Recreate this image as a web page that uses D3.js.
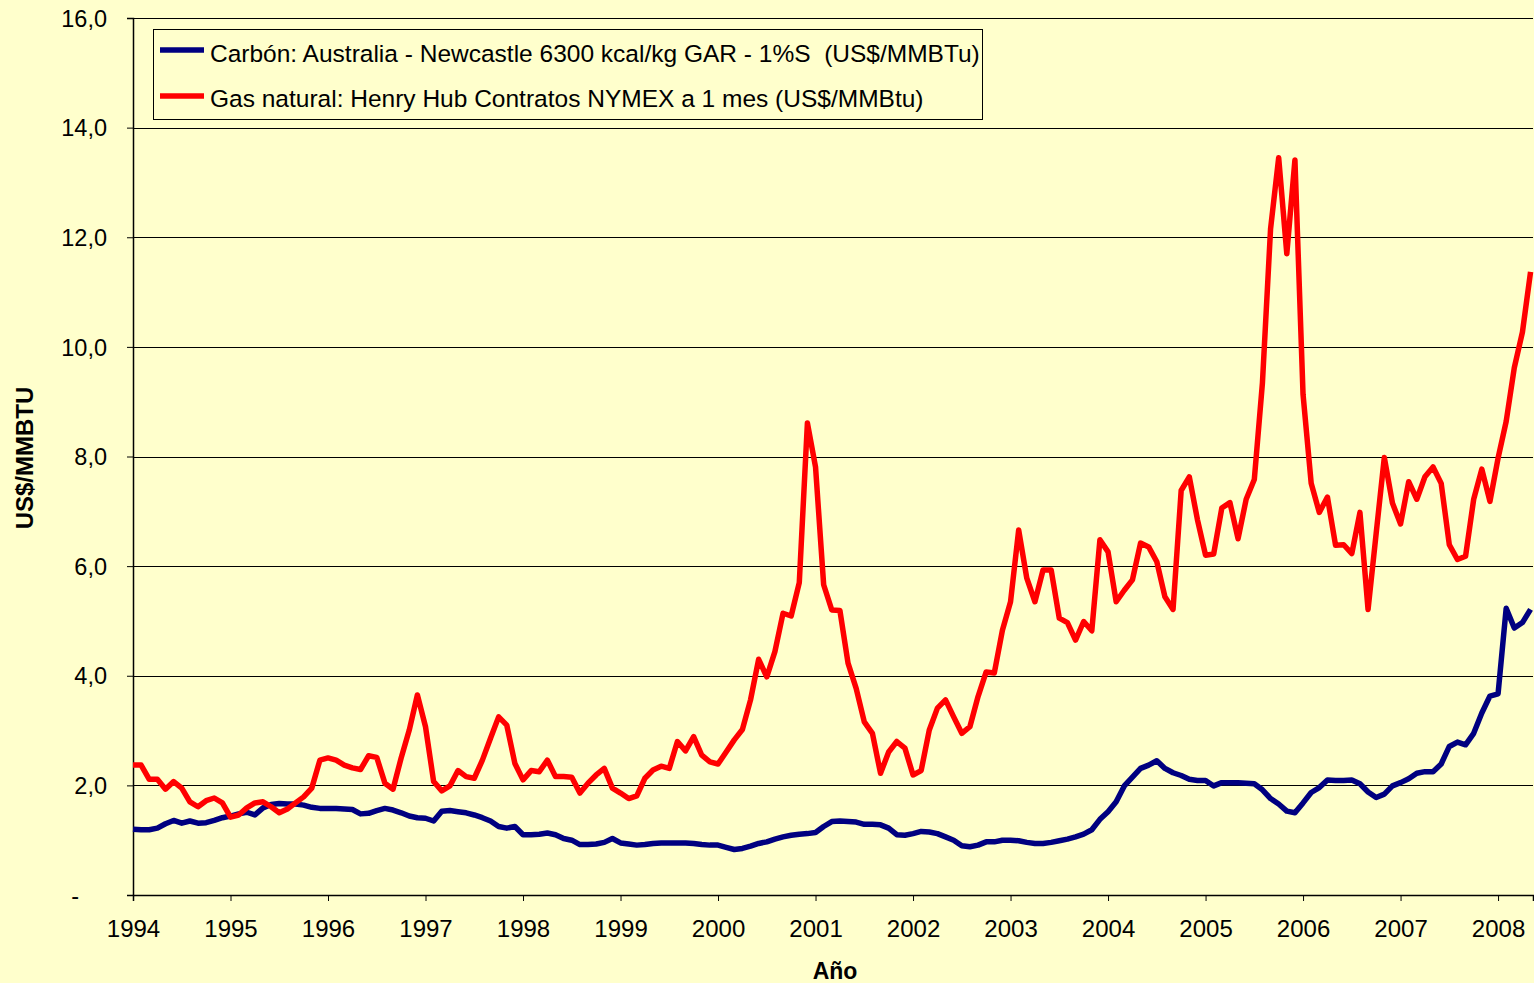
<!DOCTYPE html>
<html><head><meta charset="utf-8">
<script src="https://cdn.jsdelivr.net/npm/d3@7"></script>
<style>
html,body{margin:0;padding:0;background:#FFFFCC;}
svg{display:block;font-family:Arial,"Liberation Sans",sans-serif;}
</style>
</head><body>
<svg id="chart" width="1534" height="983"></svg>
<script>
// ---- data (monthly, Jan 1994 .. May 2008) ----
const startYear = 1994;
const yearTicks = [1994,1995,1996,1997,1998,1999,2000,2001,2002,2003,2004,2005,2006,2007,2008];
const yTicks = [0,2,4,6,8,10,12,14,16];
const seriesNames = [
  "Carbón: Australia - Newcastle 6300 kcal/kg GAR - 1%S\u00a0\u00a0(US$/MMBTu)",
  "Gas natural: Henry Hub Contratos NYMEX a 1 mes (US$/MMBtu)"
];
const seriesColors = ["#000080", "#FF0000"];
const carbon = [
  1.20,1.19,1.19,1.22,1.30,1.36,1.31,1.35,1.31,1.32,1.36,1.41,
  1.44,1.48,1.51,1.46,1.59,1.65,1.67,1.66,1.66,1.64,1.60,1.58,
  1.58,1.58,1.57,1.56,1.48,1.49,1.54,1.58,1.55,1.50,1.44,1.41,
  1.40,1.35,1.53,1.54,1.52,1.50,1.46,1.41,1.35,1.25,1.22,1.25,
  1.10,1.10,1.11,1.13,1.10,1.03,1.00,0.92,0.92,0.93,0.96,1.03,
  0.95,0.93,0.91,0.92,0.94,0.95,0.95,0.95,0.95,0.94,0.92,0.91,
  0.91,0.87,0.83,0.85,0.89,0.94,0.97,1.02,1.06,1.09,1.11,1.12,
  1.14,1.25,1.34,1.35,1.34,1.33,1.29,1.29,1.28,1.22,1.10,1.09,
  1.12,1.16,1.15,1.12,1.06,1.00,0.90,0.88,0.91,0.97,0.97,1.00,
  1.00,0.99,0.96,0.94,0.94,0.96,0.99,1.02,1.06,1.11,1.19,1.38,
  1.52,1.70,1.99,2.15,2.31,2.37,2.45,2.31,2.23,2.18,2.11,2.09,
  2.09,1.99,2.05,2.05,2.05,2.04,2.03,1.92,1.76,1.66,1.53,1.50,
  1.68,1.87,1.96,2.10,2.09,2.09,2.10,2.03,1.88,1.78,1.84,1.99,
  2.05,2.12,2.22,2.25,2.25,2.39,2.71,2.79,2.74,2.95,3.32,3.63,
  3.67,5.23,4.87,4.97,5.21
];
const gas = [
  2.37,2.37,2.11,2.11,1.93,2.07,1.95,1.70,1.61,1.72,1.77,1.68,
  1.42,1.46,1.59,1.68,1.70,1.61,1.50,1.57,1.68,1.79,1.95,2.46,
  2.50,2.46,2.37,2.32,2.29,2.54,2.51,2.04,1.93,2.50,3.01,3.65,
  3.07,2.07,1.90,1.99,2.27,2.16,2.13,2.46,2.86,3.25,3.10,2.40,
  2.10,2.27,2.25,2.46,2.16,2.16,2.15,1.86,2.04,2.19,2.31,1.95,
  1.86,1.76,1.81,2.13,2.28,2.35,2.31,2.80,2.63,2.89,2.55,2.43,
  2.39,2.61,2.83,3.02,3.56,4.30,3.98,4.44,5.14,5.09,5.70,8.61,
  7.81,5.66,5.20,5.19,4.23,3.77,3.16,2.95,2.22,2.61,2.80,2.68,
  2.19,2.27,3.01,3.41,3.56,3.25,2.95,3.07,3.62,4.07,4.05,4.83,
  5.35,6.66,5.78,5.35,5.93,5.93,5.05,4.97,4.65,4.99,4.82,6.48,
  6.26,5.35,5.56,5.75,6.42,6.35,6.08,5.44,5.21,7.38,7.63,6.85,
  6.20,6.22,7.06,7.16,6.50,7.22,7.58,9.34,12.15,13.45,11.70,13.41,
  9.13,7.51,6.98,7.26,6.38,6.39,6.23,6.98,5.21,6.60,7.98,7.15,
  6.77,7.54,7.22,7.63,7.81,7.51,6.39,6.12,6.18,7.22,7.77,7.18,
  7.97,8.64,9.62,10.27,11.37
];

// ---- layout ----
const svg = d3.select("#chart");
const L = 133, R = 1533, T = 18, B = 895;
const fmt = v => v === 0 ? "-" : v.toFixed(1).replace(".", ",");

const x = d3.scaleLinear().domain([0, 172.3]).range([L, R]);
const y = d3.scaleLinear().domain([0, 16]).range([B, T]);

svg.append("rect").attr("width",1534).attr("height",983).attr("fill","#FFFFCC");

// gridlines
svg.append("g").selectAll("line").data(yTicks.filter(d=>d>0)).join("line")
  .attr("x1", L).attr("x2", R)
  .attr("y1", d => Math.round(y(d)) + 0.5).attr("y2", d => Math.round(y(d)) + 0.5)
  .attr("stroke", "#000").attr("stroke-width", 1);

// y axis
const yAxis = d3.axisLeft(y).tickValues(yTicks).tickSize(6).tickPadding(20).tickFormat(fmt);
const gy = svg.append("g").attr("transform", `translate(${L},0)`).call(yAxis);
gy.select(".domain").attr("stroke", "#000").attr("stroke-width", 1.5);
gy.selectAll(".tick line").attr("stroke", "#000");
gy.selectAll(".tick text").attr("font-size", 23.5).attr("fill", "#000")
  .attr("font-family", "Arial, 'Liberation Sans', sans-serif")
  .attr("dy", "0.35em")
  .attr("x", d => d === 0 ? -54 : -26);

// x axis
const xAxis = d3.axisBottom(x)
  .tickValues(yearTicks.map(yr => (yr - startYear) * 12))
  .tickSize(6).tickPadding(19)
  .tickFormat(v => String(startYear + v / 12));
const gx = svg.append("g").attr("transform", `translate(0,${B})`).call(xAxis);
gx.select(".domain").attr("stroke", "#000").attr("stroke-width", 1.5);
gx.selectAll(".tick line").attr("stroke", "#000");
gx.selectAll(".tick text").attr("font-size", 24).attr("fill", "#000")
  .attr("font-family", "Arial, 'Liberation Sans', sans-serif");

// lines
const line = d3.line().x((d, i) => x(i)).y(d => y(d));
[carbon, gas].forEach((s, k) => {
  svg.append("path").datum(s)
    .attr("d", line)
    .attr("fill", "none")
    .attr("stroke", seriesColors[k])
    .attr("stroke-width", 5.5)
    .attr("stroke-linejoin", "round")
    .attr("stroke-linecap", "butt");
});

// axis titles
svg.append("text").attr("x", 835).attr("y", 979).attr("text-anchor", "middle")
  .attr("font-size", 23).attr("font-weight", "bold").text("Año");
svg.append("text").attr("transform", "translate(33,458) rotate(-90)")
  .attr("text-anchor", "middle").attr("font-size", 24).attr("font-weight", "bold")
  .text("US$/MMBTU");

// legend
const lg = svg.append("g");
lg.append("rect").attr("x", 153.5).attr("y", 29.5).attr("width", 829).attr("height", 90)
  .attr("fill", "#FFFFCC").attr("stroke", "#000").attr("stroke-width", 1);
const rows = [50, 96];
const baselines = [62, 107];
seriesNames.forEach((nm, k) => {
  lg.append("line").attr("x1", 160).attr("x2", 204)
    .attr("y1", rows[k]).attr("y2", rows[k])
    .attr("stroke", seriesColors[k]).attr("stroke-width", 5.5);
  lg.append("text").attr("x", 210).attr("y", baselines[k])
    .attr("font-size", 24.5).attr("fill", "#000").text(nm);
});
</script>
</body></html>
